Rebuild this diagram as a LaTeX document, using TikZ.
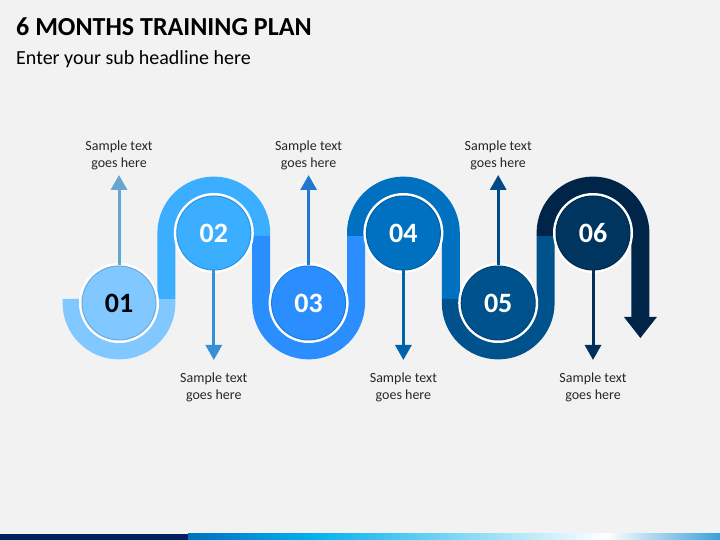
\documentclass[tikz,border=0pt]{standalone}
\usepackage{fontspec}
\setmainfont{Carlito}
\usetikzlibrary{arrows.meta}
\definecolor{bg}{HTML}{F2F2F2}
\definecolor{b1}{HTML}{80C8FF}\definecolor{o1}{HTML}{6AA8DA}\definecolor{a1}{HTML}{64A5D2}
\definecolor{b2}{HTML}{3CAEFF}\definecolor{o2}{HTML}{2A95E0}\definecolor{a2}{HTML}{3590D6}
\definecolor{b3}{HTML}{2A8EFF}\definecolor{o3}{HTML}{1F7AE0}\definecolor{a3}{HTML}{2277D0}
\definecolor{b4}{HTML}{0070C0}\definecolor{o4}{HTML}{005FA5}\definecolor{a4}{HTML}{0062AA}
\definecolor{b5}{HTML}{00528C}\definecolor{o5}{HTML}{00457A}\definecolor{a5}{HTML}{004A88}
\definecolor{b6}{HTML}{002548}\definecolor{f6}{HTML}{003560}\definecolor{o6}{HTML}{002848}\definecolor{a6}{HTML}{00305A}
\definecolor{navy}{HTML}{002060}
\definecolor{barblue}{HTML}{0070C0}
\definecolor{barcyan}{HTML}{00B0F0}
\definecolor{barend}{HTML}{3AA0DA}
\tikzset{
  band/.style={line width=18pt, line cap=butt, line join=round},
  num/.style={circle, minimum size=74pt, inner sep=0pt, line width=1pt,
    preaction={draw=white, line width=6pt},
    font=\fontsize{28}{28}\selectfont\bfseries, text=white},
  arr/.style={line width=3pt, -{Triangle[length=15pt,width=16pt]}},
  lbl/.style={align=center, font=\fontsize{14}{17}\selectfont, text=black!85},
}
\begin{document}
\begin{tikzpicture}[x=1pt,y=1pt]
\fill[bg] (0,0) rectangle (720,540);
\useasboundingbox (0,0) rectangle (720,540);
% bottom bar
\fill[navy] (0,0) rectangle (188,6);
\shade[left color=barblue, right color=barcyan] (188,0) rectangle (312,6);
\shade[left color=barcyan, right color=white] (311.5,0) rectangle (606,6);
\shade[left color=white, right color=barend] (605.5,0) rectangle (720,6);
% title
\node[anchor=base west, inner sep=0pt, font=\fontsize{26}{26}\selectfont\bfseries] (title) at (16,504) {6 MONTHS TRAINING PLAN};
\node[anchor=base west, inner sep=0pt, font=\fontsize{20}{20}\selectfont] (sub) at (16,475) {Enter your sub headline here};
% snake band
\draw[band, b1] (71.6,241) -- (71.6,237) arc[start angle=180,end angle=360,radius=47.4] -- (166.4,241);
\draw[band, b2] (166.4,241) -- (166.4,307) arc[start angle=180,end angle=0,radius=47.4] -- (261.2,304);
\draw[band, b3] (261.2,304) -- (261.2,237) arc[start angle=180,end angle=360,radius=47.4] -- (356,304);
\draw[band, b4] (356,304) -- (356,307) arc[start angle=180,end angle=0,radius=47.4] -- (450.8,241);
\draw[band, b5] (450.8,241) -- (450.8,237) arc[start angle=180,end angle=360,radius=47.4] -- (545.6,304);
\draw[band, b6] (545.6,304) -- (545.6,307) arc[start angle=180,end angle=0,radius=47.4] -- (640.4,222);
\fill[b6] (623.9,223) -- (656.9,223) -- (640.4,202) -- cycle;
% circles
\node[num, fill=b1, draw=o1, text=black] (c1) at (119,237) {01};
\node[num, fill=b2, draw=o2] (c2) at (213.8,307) {02};
\node[num, fill=b3, draw=o3] (c3) at (308.6,237) {03};
\node[num, fill=b4, draw=o4] (c4) at (403.4,307) {04};
\node[num, fill=b5, draw=o5] (c5) at (498.2,237) {05};
\node[num, fill=f6, draw=o6] (c6) at (593,307) {06};
% arrow tips
\coordinate (p1) at (119,365);
\coordinate (p2) at (213.8,180);
\coordinate (p3) at (308.6,365);
\coordinate (p4) at (403.4,180);
\coordinate (p5) at (498.2,365);
\coordinate (p6) at (593,180);
\draw[arr, a1] (c1.north) -- (p1);
\draw[arr, a2] (c2.south) -- (p2);
\draw[arr, a3] (c3.north) -- (p3);
\draw[arr, a4] (c4.south) -- (p4);
\draw[arr, a5] (c5.north) -- (p5);
\draw[arr, a6] (c6.south) -- (p6);
% labels
\node[lbl] (t1) at (119,384.5) {Sample text\\goes here};
\node[lbl] (t2) at (213.8,152.5) {Sample text\\goes here};
\node[lbl] (t3) at (308.6,384.5) {Sample text\\goes here};
\node[lbl] (t4) at (403.4,152.5) {Sample text\\goes here};
\node[lbl] (t5) at (498.2,384.5) {Sample text\\goes here};
\node[lbl] (t6) at (593,152.5) {Sample text\\goes here};
\end{tikzpicture}
\end{document}
